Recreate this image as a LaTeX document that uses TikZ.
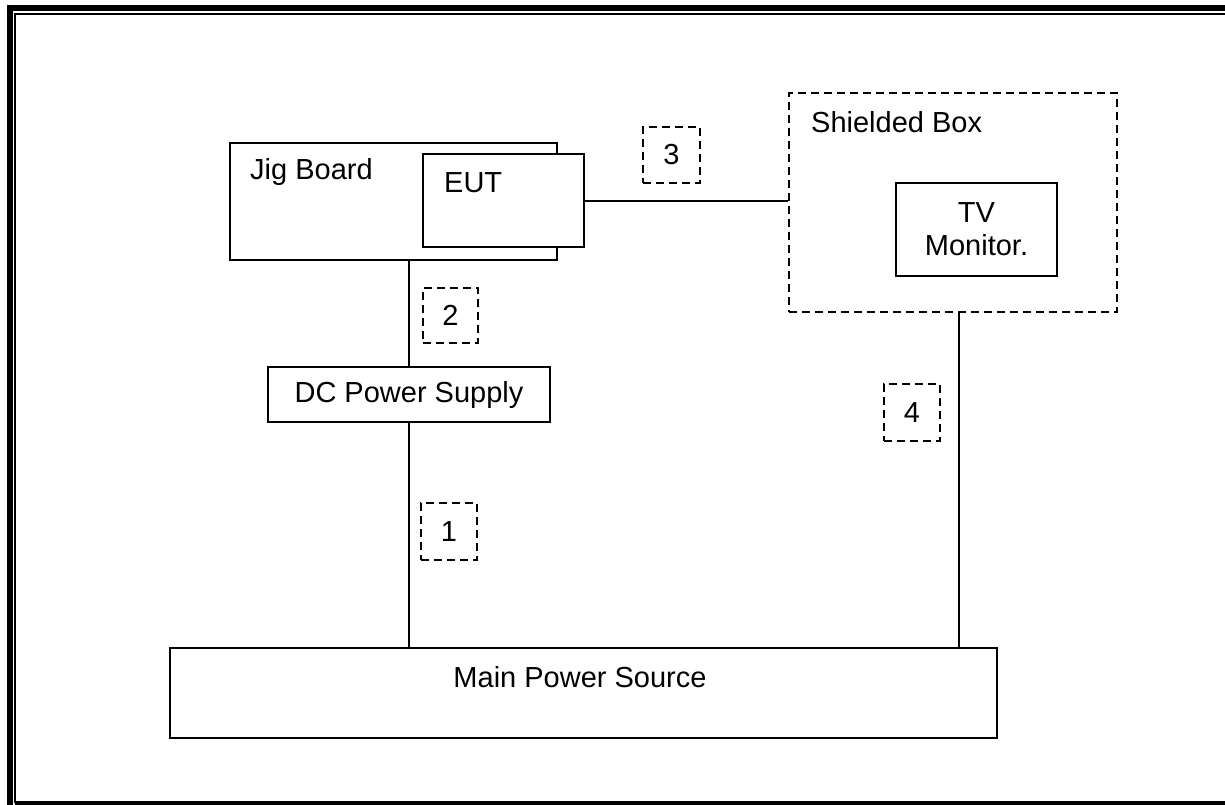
\documentclass[tikz,border=0pt]{standalone}
\usepackage{fontspec}
\setmainfont{Liberation Sans}
\begin{document}
\begin{tikzpicture}[x=1pt,y=-1pt,
  every node/.style={font=\fontsize{29}{33}\selectfont},
  solidbox/.style={draw,line width=2pt,fill=white,inner sep=0pt,minimum width=#1},
  dashbox/.style={draw,line width=2.3pt,dash pattern=on 8pt off 5pt,inner sep=0pt},
  wire/.style={line width=2pt},
  txt/.style={inner sep=0pt}
]
\useasboundingbox (0,0) rectangle (1225,805);
% frame
\draw[line width=6pt] (10,805) -- (10,8) -- (1225,8);
\draw[line width=2.2pt] (15,803) -- (15,14) -- (1225,14);
\draw[line width=3.5pt] (15,803) -- (1225,803);

% boxes
\node[solidbox=327pt,minimum height=117pt] (jig) at (393.5,201.5) {};
\node[txt,anchor=west] (jigt) at (250,172) {Jig Board};
\node[solidbox=161pt,minimum height=93pt] (eut) at (503.5,200.5) {};
\node[txt,anchor=west] (eutt) at (444,183) {EUT};

\node[dashbox,minimum width=328pt,minimum height=219pt] (shield) at (953,202.5) {};
\node[txt,anchor=west] (shieldt) at (811,122) {Shielded Box};
\node[solidbox=161pt,minimum height=93pt] (tv) at (976.5,229.5) {};
\node[txt,align=center] (tvt) at (976.5,229) {TV\\Monitor.};

\node[solidbox=282pt,minimum height=55pt] (dc) at (409,394.5) {DC Power Supply};
\node[solidbox=827pt,minimum height=90pt] (main) at (583.5,693) {};
\node[txt] (maint) at (580,677) {Main Power Source};

% numbered cable markers
\node[dashbox,minimum width=57pt,minimum height=56pt] (n3) at (671.5,155) {3};
\node[dashbox,minimum width=55pt,minimum height=55pt] (n2) at (450.5,315.5) {2};
\node[dashbox,minimum width=56pt,minimum height=57pt] (n1) at (449,531.5) {1};
\node[dashbox,minimum width=56pt,minimum height=57pt] (n4) at (912,412.5) {4};

% connectors
\draw[wire] (dc.north) -- (dc.north |- jig.south);
\draw[wire] (dc.south) -- (dc.south |- main.north);
\draw[wire] (eut.east) -- (eut.east -| shield.west);
\coordinate (c4) at (959,0);
\draw[wire] (c4 |- shield.south) -- (c4 |- main.north);
\end{tikzpicture}
\end{document}
